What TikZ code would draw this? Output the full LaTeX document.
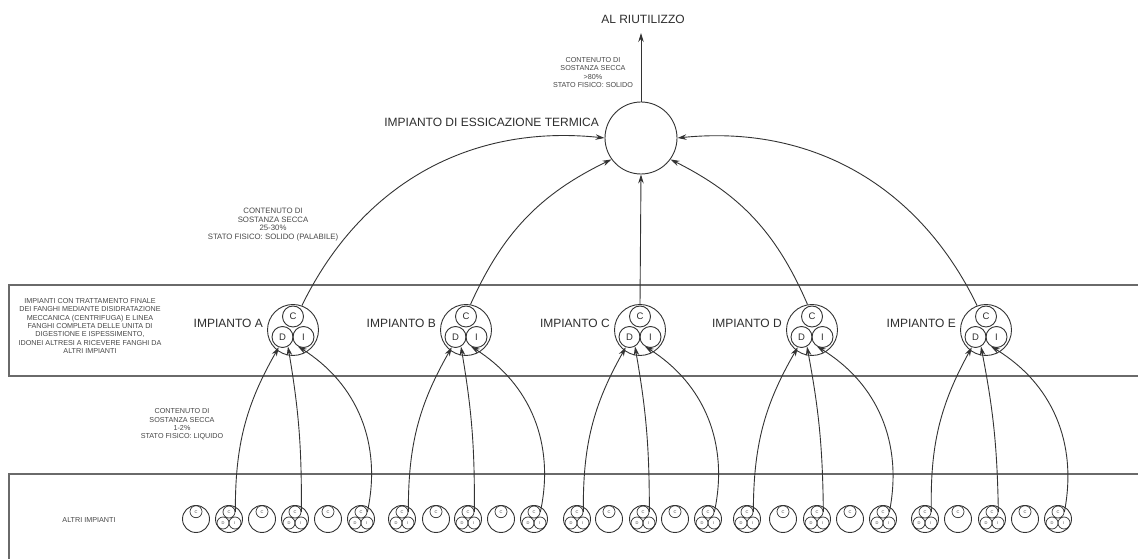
\documentclass[tikz,border=0pt]{standalone}
\usepackage{fontspec}
\setmainfont{Liberation Sans}
\usetikzlibrary{arrows.meta}
\definecolor{linec}{HTML}{333333}
\definecolor{bandc}{HTML}{6A6A6A}
\definecolor{txt}{HTML}{474747}
\definecolor{bigtxt}{HTML}{2E2E2E}
\begin{document}
\begin{tikzpicture}[x=1pt,y=1pt,
  bout/.style={circle, draw=linec, line width=0.9pt, minimum size=27pt, inner sep=0pt},
  bsub/.style={circle, draw=linec, line width=0.7pt, minimum size=12pt, inner sep=0pt, text=txt, font=\fontsize{4}{4.5}\selectfont},
  iout/.style={circle, draw=linec, line width=0.9pt, minimum size=51pt, inner sep=0pt},
  isub/.style={circle, draw=linec, line width=0.9pt, minimum size=21pt, inner sep=0pt, text=bigtxt, font=\fontsize{9.5}{10}\selectfont},
  essbox/.style={circle, draw=linec, line width=0.9pt, minimum size=72pt, inner sep=0pt},
  arr/.style={draw=linec, line width=0.9pt, -{Stealth[length=9pt,width=5.5pt]}},
  band/.style={draw=bandc, line width=1.3pt},
  small/.style={align=center, inner sep=0pt, text=txt, font=\fontsize{7.2}{8.4}\selectfont},
  big/.style={inner sep=0pt, text=bigtxt, font=\fontsize{12}{14}\selectfont}]
\useasboundingbox (0,0) rectangle (1138,559);
\fill[white] (0,0) rectangle (1138,559);
% bands
\draw[band] (1160,274) -- (9,274) -- (9,183) -- (1160,183);
\draw[band] (1160,85) -- (9,85) -- (9,-10);
% top
\node[essbox] (ess) at (641,421) {};
\node[big, anchor=east] (esslab) at (599,437) {IMPIANTO DI ESSICAZIONE TERMICA};
\node[big] (riu) at (643,540) {AL RIUTILIZZO};
\coordinate (riuArr) at (641,526);
\draw[arr] (ess.north) -- (riuArr);
% texts
\node[small] (t1) at (593,486.5) {CONTENUTO DI\\SOSTANZA SECCA\\>80\%\\STATO FISICO: SOLIDO};
\node[small, font=\fontsize{7.8}{8.4}\selectfont] (t2) at (273,334.5) {CONTENUTO DI\\SOSTANZA SECCA\\25-30\%\\STATO FISICO: SOLIDO (PALABILE)};
\node[small] (t3) at (182,134.5) {CONTENUTO DI\\SOSTANZA SECCA\\1-2\%\\STATO FISICO: LIQUIDO};
\node[small] (t4) at (90,233) {IMPIANTI CON TRATTAMENTO FINALE\\DEI FANGHI MEDIANTE DISIDRATAZIONE\\MECCANICA (CENTRIFUGA) E LINEA\\FANGHI COMPLETA DELLE UNITA DI\\DIGESTIONE E ISPESSIMENTO,\\IDONEI ALTRESI A RICEVERE FANGHI DA\\ALTRI IMPIANTI};
\node[small] (t5) at (89,39) {ALTRI IMPIANTI};
% single C circles in bottom row
\foreach \x [count=\i] in {196,262,328,436,501,609,675,783,850,958,1025}{
  \node[bout] (l\i) at (\x,40) {};
  \node[bsub] (l\i-C) at (\x,47.3) {C};
}
% groups
\foreach \g/\cx/\xa/\xb/\xc in {A/293/229/295/361, B/466/402/468/534, C/640/577/643/708, D/812/747/817/883, E/986/925/992/1058}{
  \node[iout] (i\g) at (\cx,229) {};
  \node[isub] (i\g-C) at (\cx,242.5) {C};
  \node[isub] (i\g-D) at (\cx-10.5,222) {D};
  \node[isub] (i\g-I) at (\cx+10.5,222) {I};
  \node[big, anchor=east] (lab\g) at (\cx-30,236) {IMPIANTO \g};
  \foreach \bx [count=\j] in {\xa,\xb,\xc}{
    \node[bout] (b\g\j) at (\bx,40) {};
    \node[bsub] (b\g\j-C) at (\bx,47) {C};
    \node[bsub] (b\g\j-D) at (\bx-6,36) {D};
    \node[bsub] (b\g\j-I) at (\bx+6,36) {I};
  }
  \draw[arr] (b\g1-C.east) to[bend left=15] (i\g-D.250);
  \draw[arr] (b\g2-C.east) to[bend right=5] (i\g-D.300);
  \draw[arr] (b\g3-C.east) to[bend right=35] (i\g-I.240);
}
% to the drying plant
\draw[arr] (iA.70) to[bend left=35] (ess.180);
\draw[arr] (iB.80) to[bend left=20] (ess.216);
\draw[arr] (iC.north) -- (ess.south);
\draw[arr] (iD.100) to[bend right=20] (ess.324);
\draw[arr] (iE.110) to[bend right=35] (ess.0);
\end{tikzpicture}
\end{document}
